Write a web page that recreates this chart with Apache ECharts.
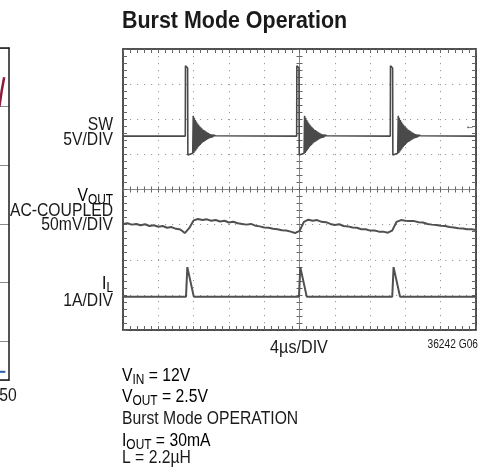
<!DOCTYPE html>
<html>
<head>
<meta charset="utf-8">
<title>Burst Mode Operation</title>
<script src="https://cdn.jsdelivr.net/npm/echarts@6/dist/echarts.min.js"></script>
<style>
html, body { margin: 0; padding: 0; background: #fff; }
#chart { width: 493px; height: 473px; }
</style>
</head>
<body>
<div id="chart"></div>
<script>
var chart = echarts.init(document.getElementById('chart'));
// Liberation Sans squeezed sideways stands in for the condensed datasheet face
var FONT = '"Liberation Sans", Arial, sans-serif';
var SQUEEZE = 0.85;

// scope screen: 10 div x 4us across, 8 div high, traces in div from center
var timeMax = 40, timeStep = 4;
var divMin = -4, divMax = 4;

// SW 5V/DIV: baseline, switching edges (us) and one burst shape (dt, div)
var swBase = 1.52;
var swEdges = [7.06, 19.68, 30.29];
var swPulse = [
	[0, 1.52], [0.02, 3.52], [0.26, 3.46], [0.29, 0.98], [0.84, 1.03],
	[0.90, 2.10], [0.96, 1.04], [1.02, 2.04], [1.08, 1.08], [1.14, 1.98],
	[1.20, 1.12], [1.26, 1.93], [1.32, 1.16], [1.38, 1.88], [1.44, 1.20],
	[1.50, 1.84], [1.56, 1.24], [1.62, 1.80], [1.68, 1.27], [1.74, 1.77],
	[1.80, 1.30], [1.86, 1.74], [1.92, 1.33], [1.98, 1.71], [2.04, 1.35],
	[2.10, 1.69], [2.16, 1.37], [2.22, 1.67], [2.28, 1.39], [2.34, 1.65],
	[2.40, 1.41], [2.46, 1.63], [2.52, 1.43], [2.58, 1.61], [2.64, 1.45],
	[2.70, 1.59], [2.76, 1.46], [2.82, 1.58], [2.88, 1.47], [2.94, 1.57],
	[3.00, 1.48], [3.06, 1.56], [3.12, 1.49], [3.18, 1.55], [3.24, 1.50],
	[3.30, 1.54], [3.36, 1.51], [3.42, 1.53], [3.48, 1.52]
];

// VOUT AC-coupled 50mV/DIV, read every 0.5us
var voutStep = 0.5;
var voutVals = [
	-0.98, -0.96, -1.00, -0.98, -1.02, -0.99, -1.04, -1.02, -1.06, -1.04,
	-1.09, -1.07, -1.12, -1.14, -1.24, -1.10, -0.88, -0.84, -0.87, -0.85,
	-0.89, -0.87, -0.91, -0.89, -0.94, -0.92, -0.96, -0.98, -1.00, -0.98,
	-1.03, -1.05, -1.08, -1.09, -1.12, -1.13, -1.16, -1.17, -1.20, -1.24,
	-1.18, -0.92, -0.86, -0.89, -0.87, -0.92, -0.93, -0.98, -1.01, -0.99,
	-1.04, -1.05, -1.08, -1.09, -1.13, -1.13, -1.17, -1.17, -1.20, -1.20,
	-1.23, -1.17, -0.92, -0.87, -0.89, -0.90, -0.90, -0.93, -0.94, -0.98,
	-1.00, -1.01, -1.03, -1.04, -1.07, -1.08, -1.10, -1.11, -1.13, -1.13,
	-1.15
];

// IL 1A/DIV
var ilBase = -3.05;
var ilEdges = [7.14, 19.94, 30.51];
var ilPulse = [[0, -3.05], [0.15, -2.21], [0.22, -2.26], [0.88, -3.05]];

// left neighbour chart, only its right edge is in the picture
var nbXMax = 50, nbXStep = 10;
var nbRows = 5.66;
var nbRed = [[48.4, 1.0], [48.8, 0.72], [49.2, 0.5]];
var nbBlue = [[48.5, 5.52], [49.4, 5.52]];

function burst(base, edges, shape){
	var pts = [[0, base]];
	edges.forEach(function(t0){
		shape.forEach(function(p){
			pts.push([+(t0 + p[0]).toFixed(3), p[1]]);
		});
	});
	pts.push([timeMax, base]);
	return pts;
}

var swData = burst(swBase, swEdges, swPulse);
var ilData = burst(ilBase, ilEdges, ilPulse);
var voutData = voutVals.map(function(v, i){ return [i * voutStep, v]; });

var box = {left: 123, top: 49, width: 353, height: 281};
var midX = box.left + box.width / 2;
var midY = box.top + box.height / 2;

function gridAt(left, top, width, height){
	return {left: left, top: top, width: width, height: height, outerBoundsMode: 'none', containLabel: false};
}

function xAx(grid, pos, line, tickLen, split){
	return {
		type: 'value', gridIndex: grid, position: pos, min: 0, max: timeMax, interval: timeStep,
		axisLine: {show: !!line, onZero: false, lineStyle: line || {}},
		axisTick: {show: tickLen > 0, inside: true, length: tickLen, lineStyle: {color: '#666', width: 1}},
		minorTick: {show: tickLen > 0, splitNumber: 5, length: tickLen, lineStyle: {color: '#666', width: 1}},
		axisLabel: {show: false},
		splitLine: {show: !!split, lineStyle: {color: '#9a9a9a', width: 1, type: [1.2, 5.8]}}
	};
}
function yAx(grid, pos, line, tickLen, split){
	return {
		type: 'value', gridIndex: grid, position: pos, min: divMin, max: divMax, interval: 1,
		axisLine: {show: !!line, onZero: false, lineStyle: line || {}},
		axisTick: {show: tickLen > 0, inside: true, length: tickLen, lineStyle: {color: '#666', width: 1}},
		minorTick: {show: tickLen > 0, splitNumber: 5, length: tickLen, lineStyle: {color: '#666', width: 1}},
		axisLabel: {show: false},
		splitLine: {show: !!split, lineStyle: {color: '#9a9a9a', width: 1, type: [1.2, 5.8]}}
	};
}
function hidden(type, grid){
	return {type: 'value', gridIndex: grid, show: false, min: type == 'x' ? 0 : divMin, max: type == 'x' ? timeMax : divMax};
}

var border = {color: '#1a1a1a', width: 1.5};
var center = {color: '#8a8a8a', width: 1};

function txt(x, y, text, size, align, weight, squeeze){
	return {
		type: 'text', x: x, y: y, scaleX: squeeze || SQUEEZE, silent: true,
		style: {
			text: text, fill: '#1a1a1a', fontFamily: FONT, fontSize: size,
			fontWeight: weight || 'normal', align: align || 'left', verticalAlign: 'middle'
		}
	};
}
var rich = {
	m: {fontFamily: FONT, fontSize: 18.5, lineHeight: 20, verticalAlign: 'top', color: '#1a1a1a'},
	s: {fontFamily: FONT, fontSize: 14, lineHeight: 20, verticalAlign: 'top', padding: [7, 0, 0, 0], color: '#1a1a1a'}
};
function sub(x, y, text, align){
	return {
		type: 'text', x: x, y: y - 10, scaleX: SQUEEZE, silent: true,
		style: {text: text, rich: rich, align: align || 'left', verticalAlign: 'top'}
	};
}

function line(data, xi, yi, color, width){
	return {
		type: 'line', xAxisIndex: xi, yAxisIndex: yi, data: data,
		symbol: 'none', clip: true, silent: true, animation: false,
		lineStyle: {color: color, width: width}
	};
}

var option = {
	animation: false,
	grid: [
		gridAt(box.left, box.top, box.width, box.height),
		gridAt(box.left, box.top, box.width, box.height / 2),
		gridAt(box.left, midY, box.width, box.height / 2),
		gridAt(box.left, box.top, box.width / 2, box.height),
		gridAt(midX, box.top, box.width / 2, box.height),
		gridAt(-291, 48, 300, 332)
	],
	xAxis: [
		xAx(0, 'bottom', border, 4, true),
		xAx(0, 'top', border, 4, false),
		xAx(1, 'bottom', center, 3, false),
		xAx(2, 'top', null, 3, false),
		hidden('x', 3),
		hidden('x', 4),
		{
			type: 'value', gridIndex: 5, position: 'bottom', min: 0, max: nbXMax, interval: nbXStep,
			axisLine: {onZero: false, lineStyle: border}, axisTick: {show: false},
			axisLabel: {show: false}, splitLine: {show: false}
		},
		{
			type: 'value', gridIndex: 5, position: 'top', min: 0, max: nbXMax,
			axisLine: {onZero: false, lineStyle: border}, axisTick: {show: false},
			axisLabel: {show: false}, splitLine: {show: false}
		}
	],
	yAxis: [
		yAx(0, 'left', border, 4, true),
		yAx(0, 'right', border, 4, false),
		hidden('y', 1),
		hidden('y', 2),
		yAx(3, 'right', center, 3, false),
		yAx(4, 'left', null, 3, false),
		{
			type: 'value', gridIndex: 5, position: 'right', inverse: true, min: 0, max: nbRows, interval: 1,
			axisLine: {onZero: false, lineStyle: border}, axisTick: {show: false}, axisLabel: {show: false},
			splitLine: {lineStyle: {color: '#8a8a8a', width: 1}}
		}
	],
	series: [
		line(swData, 0, 0, '#4a4a4a', 1.6),
		line(voutData, 0, 0, '#505050', 2),
		line(ilData, 0, 0, '#505050', 2),
		line(nbRed, 6, 6, '#8c1c3c', 2.5),
		line(nbBlue, 6, 6, '#2a5caa', 2)
	],
	graphic: [
		txt(122, 21, 'Burst Mode Operation', 24.5, 'left', 'bold', 0.875),
		txt(113, 125, 'SW', 18.5, 'right'),
		txt(113, 140, '5V/DIV', 18.5, 'right'),
		sub(113, 196, '{m|V}{s|OUT}', 'right'),
		txt(113, 211, 'AC-COUPLED', 18.5, 'right'),
		txt(113, 225, '50mV/DIV', 18.5, 'right'),
		sub(113, 284, '{m|I}{s|L}', 'right'),
		txt(113, 301, '1A/DIV', 18.5, 'right'),
		txt(470, 126, '\u2190', 11, 'center'),
		txt(299, 348, '4\u00b5s/DIV', 19, 'center'),
		txt(478, 345, '36242 G06', 12, 'right'),
		txt(8, 396, '50', 18.5, 'center'),
		sub(122, 376, '{m|V}{s|IN}{m| = 12V}'),
		sub(122, 397, '{m|V}{s|OUT}{m| = 2.5V}'),
		txt(122, 419, 'Burst Mode OPERATION', 18.5),
		sub(122, 441, '{m|I}{s|OUT}{m| = 30mA}'),
		txt(122, 458, 'L = 2.2\u00b5H', 18.5)
	]
};

chart.setOption(option);
</script>
</body>
</html>
